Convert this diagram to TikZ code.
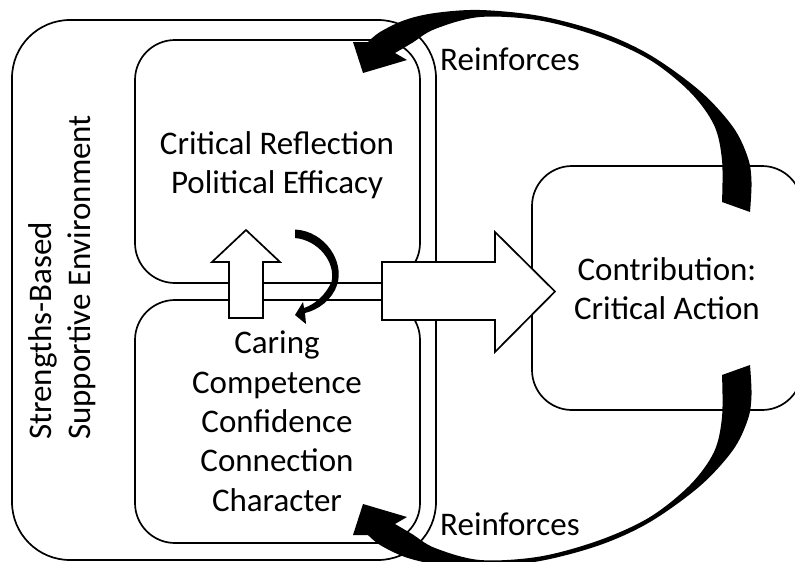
\documentclass[tikz,border=0pt]{standalone}
\usepackage{fontspec}
\setmainfont{Carlito}
\newcommand\tstrut{\rule{0pt}{25pt}}
\newcommand\reinforcepath{%
  \fill plot[smooth, tension=0.55] coordinates {(750,212) (751.5,182) (748,158) (733,127) (700,91) (650,55) (600,32) (540,16) (480,10) (435,13) (405,20) (380,32) (368,42)}
   -- (353,42) -- (363,73) -- (407,60) -- (395,53)
   -- plot[smooth, tension=0.55] coordinates {(395,53) (412,43) (435,29) (480,17) (540,20.5) (600,37) (650,60) (690,92) (714,125) (722,160) (722,202)} -- cycle;}
\begin{document}
\begin{tikzpicture}[x=1pt, y=-1pt,
  boxline/.style={draw=black, line width=1.7pt},
  envbox/.style={boxline, rounded corners=58pt, minimum width=424pt, minimum height=540pt, inner sep=0pt},
  innerbox/.style={boxline, rounded corners=40pt, minimum width=285pt, minimum height=243pt, inner sep=0pt},
  actionbox/.style={boxline, rounded corners=40pt, minimum width=270pt, minimum height=244pt, inner sep=0pt},
  hollowarrow/.style={draw=black, fill=white, line width=1.7pt, line join=miter},
  txt/.style={font=\fontsize{33}{39.4}\selectfont, align=center, inner sep=0pt, text=black}]
\useasboundingbox (0,0) rectangle (795,562);
\fill[white] (0,0) rectangle (795,562);
\clip (0,0) rectangle (795,562);

% boxes
\node[envbox] (env) at (224,290) {};
\node[innerbox] (reflect) at (277.5,161.5) {};
\node[innerbox] (five) at (277.5,421.5) {};
\node[actionbox] (action) at (667,288) {};

% hollow arrows
\draw[hollowarrow] (229,318) -- (229,262) -- (212,262) -- (246,230) -- (280,262) -- (263,262) -- (263,318) -- cycle;
\draw[hollowarrow] (382,262) -- (495,262) -- (495,232) -- (555,291.5) -- (495,352) -- (495,320) -- (382,320) -- cycle;

% small curved arrow
\fill (295,229.5) .. controls (325,231) and (345,262) .. (337,285) .. controls (332,300) and (318,310) .. (305,313)
  -- (306,324) -- (295,315) -- (303,302) -- (304,308)
  .. controls (316,304) and (326,294) .. (331.5,282) .. controls (336,262) and (318,240) .. (295,238) -- cycle;

% reinforcing arrows
\reinforcepath
\begin{scope}[cm={1,0,0,-1,(0pt,-577pt)}]
\reinforcepath
\end{scope}

% texts
\node[txt, anchor=north] (reflecttxt) at (277,129) {\tstrut Critical Reflection\\Political Efficacy};
\node[txt, anchor=north] (fivetxt) at (277,328.5) {\tstrut Caring\\Competence\\Confidence\\Connection\\Character};
\node[txt, anchor=north] (actiontxt) at (667,255) {\tstrut Contribution:\\Critical Action};
\node[txt, anchor=north west, rotate=90, align=left] (envtxt) at (26,440) {\tstrut Strengths-Based\\Supportive Environment};
\node[txt, anchor=base] (reinftop) at (510,70.5) {Reinforces};
\node[txt, anchor=base] (reinfbot) at (510,535) {Reinforces};
\end{tikzpicture}
\end{document}
